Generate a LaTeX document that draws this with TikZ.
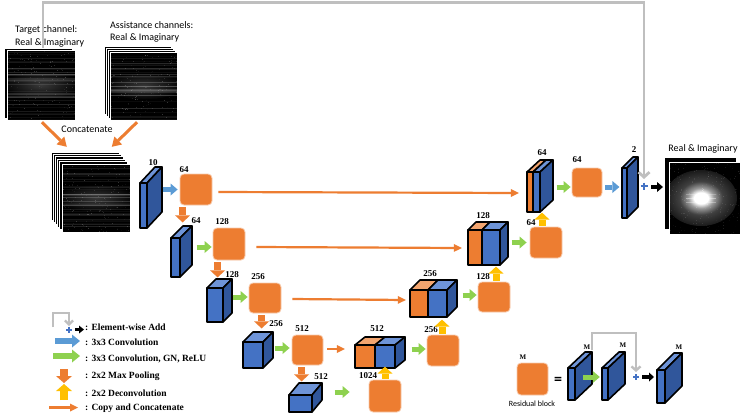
\documentclass[tikz,border=0pt]{standalone}
\usepackage{fontspec}
\setmainfont{Liberation Serif}
\newfontfamily\calib{Carlito}
\usetikzlibrary{arrows.meta,calc}
\definecolor{bF}{HTML}{4472C4}
\definecolor{bT}{HTML}{6E94D8}
\definecolor{bS}{HTML}{30569B}
\definecolor{oF}{HTML}{ED7D31}
\definecolor{oT}{HTML}{F3A56F}
\definecolor{oL}{HTML}{F8CBAD}
\definecolor{gA}{HTML}{8ED14F}
\definecolor{lbA}{HTML}{5B9BD5}
\definecolor{yA}{HTML}{FFC000}
\definecolor{skG}{HTML}{BFBFBF}
\pgfdeclareradialshading{glow}{\pgfpoint{0bp}{0bp}}{color(0bp)=(white); color(5bp)=(white); color(9bp)=(white!60!black); color(15bp)=(white!25!black); color(25bp)=(white!10!black); color(40bp)=(black); color(50bp)=(black)}
\tikzset{
  blkline/.style={draw=black, line width=1.6pt, line join=round},
  res/.style={fill=oF, draw=oL, line width=0.8pt, rounded corners=4pt, inner sep=0pt},
  lbl/.style={font=\bfseries\fontsize{9}{9}\selectfont, inner sep=0pt},
  mlbl/.style={font=\bfseries\fontsize{7}{8}\selectfont, inner sep=0pt},
  sans/.style={font=\calib\fontsize{10}{12.5}\selectfont, inner sep=0pt},
  legtxt/.style={font=\bfseries\fontsize{9.5}{10}\selectfont, inner sep=0pt, anchor=west},
  garr/.style={draw=gA, line width=5pt, -{Triangle[length=7pt,width=12pt,line width=0pt]}},
  barr/.style={draw=lbA, line width=5pt, -{Triangle[length=7pt,width=12pt,line width=0pt]}},
  parr/.style={draw=oF, line width=7pt, -{Triangle[length=7pt,width=15pt,line width=0pt]}},
  uarr/.style={draw=yA, line width=7pt, -{Triangle[length=7pt,width=15pt,line width=0pt]}},
  karr/.style={draw=black, line width=4pt, -{Triangle[length=6pt,width=10pt,line width=0pt]}},
  cpy/.style={draw=oF, line width=2.2pt, -{Triangle[length=8pt,width=8pt,line width=0pt]}},
  skip/.style={draw=skG, line width=2.8pt, -{Straight Barb[length=5pt,width=11pt]}},
  plusst/.style={draw=bF, line width=2.2pt},
  imgbox/.style={inner sep=0pt, draw=none}
}
% block: name, x, y, w, h, dx, dy
\newcommand\blk[7]{%
  \filldraw[blkline,fill=bF] (#2,#3) rectangle ++(#4,#5);
  \filldraw[blkline,fill=bT] (#2,#3) -- ++(#6,-#7) -- ++(#4,0) -- ++(-#6,#7) -- cycle;
  \filldraw[blkline,fill=bS] (#2+#4,#3) -- ++(#6,-#7) -- ++(0,#5) -- ++(-#6,#7) -- cycle;
  \node[inner sep=0pt,minimum width=#4pt,minimum height=#5pt] (#1) at (#2+#4/2,#3+#5/2) {};
}
% concat block: name, x, y, wo, wb, h, dx, dy
\newcommand\cblk[8]{%
  \filldraw[blkline,fill=oF] (#2,#3) rectangle ++(#4,#6);
  \filldraw[blkline,fill=bF] (#2+#4,#3) rectangle ++(#5,#6);
  \filldraw[blkline,fill=oT] (#2,#3) -- ++(#7,-#8) -- ++(#4,0) -- ++(-#7,#8) -- cycle;
  \filldraw[blkline,fill=bT] (#2+#4,#3) -- ++(#7,-#8) -- ++(#5,0) -- ++(-#7,#8) -- cycle;
  \filldraw[blkline,fill=bS] (#2+#4+#5,#3) -- ++(#7,-#8) -- ++(0,#6) -- ++(-#7,#8) -- cycle;
  \node[inner sep=0pt,minimum width=#4pt+#5pt,minimum height=#6pt] (#1) at (#2+#4/2+#5/2,#3+#6/2) {};
}
% plain layer
\newcommand\layer[4]{%
  \filldraw[fill=black, draw=white, line width=0.7pt] (#1,#2) rectangle ++(#3,#4);
}
% noisy input image
\newcommand\noisy[4]{%
  \fill[black] (#1,#2) rectangle ++(#3,#4);
  \begin{scope}
    \clip (#1,#2) rectangle ++(#3,#4);
    \shade[inner color=white!22!black, outer color=black] (#1+#3/2,#2+#4/2) ellipse [x radius=#3*0.6pt, y radius=#4*0.2pt];
    \foreach \k in {1,...,40}{
      \pgfmathsetmacro\yy{#2+#4*rnd}
      \pgfmathsetmacro\op{0.03+0.2*rnd*(1-abs(\yy-#2-#4/2)/(#4/2))}
      \draw[white, opacity=\op, line width=0.45pt] (#1,\yy) -- ++(#3,0);
    }
    \foreach \k in {1,...,160}{
      \pgfmathsetmacro\xx{#1+#3*rnd}
      \pgfmathsetmacro\yy{#2+#4*rnd}
      \pgfmathsetmacro\op{0.22*rnd}
      \fill[white, opacity=\op] (\xx,\yy) rectangle ++(0.8,0.8);
    }
  \end{scope}
  \draw[white, line width=0.7pt] (#1,#2) rectangle ++(#3,#4);
}
\begin{document}
\begin{tikzpicture}[x=1pt,y=-1pt]
\pgfmathsetseed{7}
\useasboundingbox (0,0) rectangle (750,418);
\fill[white] (0,0) rectangle (750,418);

% ---------- input images ----------
\layer{4}{48}{68}{70}
\noisy{7}{50}{68}{70}
\node[imgbox, minimum width=68pt, minimum height=70pt] (tgt) at (41,85) {};
\layer{104}{46}{67}{68}
\layer{106}{48}{67}{68}
\layer{108}{50}{67}{68}
\noisy{110}{52}{67}{68}
\node[imgbox, minimum width=67pt, minimum height=68pt] (ast) at (143.5,86) {};
\foreach \i in {0,...,4}{\layer{51+2.2*\i}{152+2.4*\i}{68}{68}}
\noisy{62}{164}{68}{68}
\node[imgbox, minimum width=68pt, minimum height=68pt] (cat) at (96,198) {};

\node[sans, anchor=west, align=left] at (15,36.5) {Target channel:\\Real \& Imaginary};
\node[sans, anchor=west, align=left] at (110,32) {Assistance channels:\\Real \& Imaginary};
\node[sans] at (87,129) {Concatenate};
\draw[cpy, line width=3pt, -{Triangle[length=9pt,width=11pt,line width=0pt]}] ($(tgt.south)+(1,2)$) -- ($(cat.north west)+(5,-17)$);
\draw[cpy, line width=3pt, -{Triangle[length=9pt,width=11pt,line width=0pt]}] ($(ast.south)+(-6.5,2)$) -- ($(cat.north west)+(50,-17)$);

% ---------- encoder ----------
\blk{e0}{140}{183}{7}{45}{15}{16}
\node[res, minimum width=32pt, minimum height=31pt] (b0) at (196,189.5) {};
\blk{e1}{171}{238}{9}{39}{12}{12}
\node[res, minimum width=32pt, minimum height=32pt] (b1) at (229,244) {};
\blk{e2}{207}{288}{16}{34}{9}{9}
\node[res, minimum width=32pt, minimum height=30pt] (b2) at (265,298) {};
\blk{e3}{243}{342}{20}{26}{10}{10}
\node[res, minimum width=31pt, minimum height=30pt] (b3) at (307.5,350) {};
\blk{e4}{289}{395}{23}{17}{10}{12}
\node[res, minimum width=32pt, minimum height=32pt] (b4) at (385,396) {};

% ---------- decoder ----------
\cblk{c3}{355}{345}{20}{20}{23}{10}{8}
\node[res, minimum width=32pt, minimum height=31pt] (d3) at (443,350.5) {};
\cblk{c2}{410}{290}{18}{19}{27}{10}{10}
\node[res, minimum width=32pt, minimum height=30pt] (d2) at (494,297) {};
\cblk{c1}{468}{230}{14}{18}{35}{8}{8}
\node[res, minimum width=32pt, minimum height=31pt] (d1) at (546,242.5) {};
\cblk{c0}{527}{172}{6}{7}{40}{13}{12}
\node[res, minimum width=30pt, minimum height=29pt] (d0) at (587,182.5) {};
\blk{o2}{622}{168}{5}{50}{11}{11}

% ---------- labels ----------
\node[lbl] at (153,163) {10};
\node[lbl] at (184,170) {64};
\node[lbl] at (196,221) {64};
\node[lbl] at (222,222) {128};
\node[lbl] at (232,275) {128};
\node[lbl] at (258,277) {256};
\node[lbl] at (276,324) {256};
\node[lbl] at (302,329) {512};
\node[lbl] at (321,377) {512};
\node[lbl] at (368,376) {1024};
\node[lbl] at (377,329) {512};
\node[lbl] at (431,330) {256};
\node[lbl] at (430,274) {256};
\node[lbl] at (483,277) {128};
\node[lbl] at (483,216) {128};
\node[lbl] at (531,223) {64};
\node[lbl] at (542,153) {64};
\node[lbl] at (577,160) {64};
\node[lbl] at (634,150) {2};

% ---------- arrows ----------
\draw[barr] ($(b0.west)+(-17,0)$) -- ++(15,0);
\draw[parr] ($(b0.south west)+(3,2)$) -- ++(0,15);
\draw[garr] ($(b1.west)+(-16,3)$) -- ++(15,0);
\draw[parr] ($(b1.south west)+(5,2)$) -- ++(0,15);
\draw[garr] ($(b2.west)+(-16,-1)$) -- ++(15,0);
\draw[parr] ($(b2.south west)+(13,2)$) -- ++(0,13);
\draw[garr] ($(b3.west)+(-17,-2)$) -- ++(15,0);
\draw[parr] ($(b3.south west)+(10,2)$) -- ++(0,14);
\draw[garr] ($(b4.west)+(-34,-4)$) -- ++(15,0);
\draw[uarr] ($(b4.north)+(0,-1)$) -- ++(0,-12);
\draw[garr] ($(d3.west)+(-15,-1.5)$) -- ++(14,0);
\draw[uarr] ($(d3.north)+(-1,-1)$) -- ++(0,-14);
\draw[garr] ($(d2.west)+(-15,-2)$) -- ++(14,0);
\draw[uarr] ($(d2.north)+(2,-1)$) -- ++(0,-14);
\draw[garr] ($(d1.west)+(-18,0)$) -- ++(15,0);
\draw[uarr] ($(d1.north)+(-4,-1)$) -- ++(0,-13);
\draw[garr] ($(d0.west)+(-15,4.5)$) -- ++(14,0);
\draw[barr] ($(d0.east)+(3,4.5)$) -- ++(14,0);

\draw[cpy] ($(b0.east)+(6,2.5)$) -- ($(c0.west)+(-8,1)$);
\draw[cpy] ($(b1.east)+(11,3)$) -- ($(c1.west)+(-6,0.5)$);
\draw[cpy] ($(b2.east)+(11,1)$) -- ($(c2.west)+(-4,-3.5)$);
\draw[cpy] ($(b3.east)+(4,-1)$) -- ($(c3.west)+(-10,-7.5)$);

% skip connection and output
\coordinate (pO) at (644,186);
\draw[skip] ($(tgt.north)+(2,-2)$) -- ++(0,-45) -| ($(pO)+(0,-7)$);
\draw[plusst] ($(pO)+(-3.5,0)$) -- ++(7,0) ($(pO)+(0,-3.5)$) -- ++(0,7);
\draw[karr] ($(pO)+(7,1)$) -- ++(12,0);

\layer{664}{157}{72}{72}
\fill[black] (669,162) rectangle ++(71,72);
\begin{scope}
  \clip (669,162) rectangle ++(71,72);
  \shade[shading=glow] (701,198) ellipse [x radius=36pt, y radius=28pt];
  \foreach \k in {1,...,260}{
    \pgfmathsetmacro\xx{669+71*rnd}
    \pgfmathsetmacro\yy{162+72*rnd}
    \pgfmathsetmacro\dd{sqrt((\xx-701)^2+(\yy-198)^2)}
    \pgfmathsetmacro\op{max(0.12,0.6-\dd/28)*rnd}
    \fill[white, opacity=\op] (\xx,\yy) rectangle ++(1,1);
  }
  \foreach \yy/\op in {194/0.25,198/0.4,202/0.3}{
    \draw[white, opacity=\op, line width=0.8pt] (686,\yy) -- (716,\yy);
  }
\end{scope}
\draw[white, line width=0.7pt] (669,162) rectangle ++(71,72);
\node[imgbox, minimum width=71pt, minimum height=72pt] (out) at (704.5,198) {};
\node[sans] at (703,149) {Real \& Imaginary};

% ---------- legend ----------
\draw[skG, line width=2.2pt, -{Straight Barb[length=4pt,width=8pt]}] (53,327) -- (53,313) -- (69,313) -- (69,326);
\draw[plusst, line width=2pt] (66,329.5) -- ++(6,0) (69,326.5) -- ++(0,6);
\draw[karr, line width=3pt, -{Triangle[length=5pt,width=8pt,line width=0pt]}] (75,329.5) -- (84,329.5);
\node[legtxt] at (85,327.5) {: Element-wise Add};
\draw[barr, line width=6pt, -{Triangle[length=8pt,width=13pt,line width=0pt]}] (55,341) -- (80,341);
\node[legtxt] at (85,342.5) {: 3x3 Convolution};
\draw[garr, line width=6pt, -{Triangle[length=8pt,width=13pt,line width=0pt]}] (53,356) -- (80,356);
\node[legtxt] at (85,359) {: 3x3 Convolution, GN, ReLU};
\draw[parr, line width=8pt, -{Triangle[length=7pt,width=16pt,line width=0pt]}] (64,369) -- (64,383);
\node[legtxt] at (85,376) {: 2x2 Max Pooling};
\draw[uarr, line width=8pt, -{Triangle[length=7pt,width=16pt,line width=0pt]}] (64,400) -- (64,384);
\node[legtxt] at (85,393) {: 2x2 Deconvolution};
\draw[cpy] (49,407.5) -- (78,407.5);
\node[legtxt] at (85,408.5) {: Copy and Concatenate};

% ---------- residual block ----------
\node[res, minimum width=31pt, minimum height=32pt] (rb) at (532.5,379) {};
\node[mlbl] at (523,357) {M};
\node[font=\calib\fontsize{8}{9}\selectfont, inner sep=0pt] at (532,404) {Residual block};
\node[font=\calib\bfseries\fontsize{16}{16}\selectfont, inner sep=0pt] at (558,381) {=};
\blk{r1}{568}{368}{7}{32}{17}{16}
\blk{r2}{602}{368}{6}{32}{17}{16}
\draw[garr] ($(r2.west)+(-19,-7)$) -- ++(17,0);
\coordinate (rp) at (636,377);
\draw[skG, line width=2.4pt, -{Straight Barb[length=4pt,width=9pt]}] ($(r1.north east)+(17,-18)$) -- ++(0,-17) -| ($(rp)+(0,-5)$);
\draw[plusst, line width=2pt] ($(rp)+(-3,0)$) -- ++(6,0) ($(rp)+(0,-3)$) -- ++(0,6);
\draw[karr, line width=3.5pt, -{Triangle[length=5pt,width=9pt,line width=0pt]}] ($(rp)+(6,0)$) -- ++(12,0);
\blk{r3}{657}{370}{8}{33}{17}{17}
\node[mlbl] at (587,347) {M};
\node[mlbl] at (623,345) {M};
\node[mlbl] at (679,347) {M};
\end{tikzpicture}
\end{document}
